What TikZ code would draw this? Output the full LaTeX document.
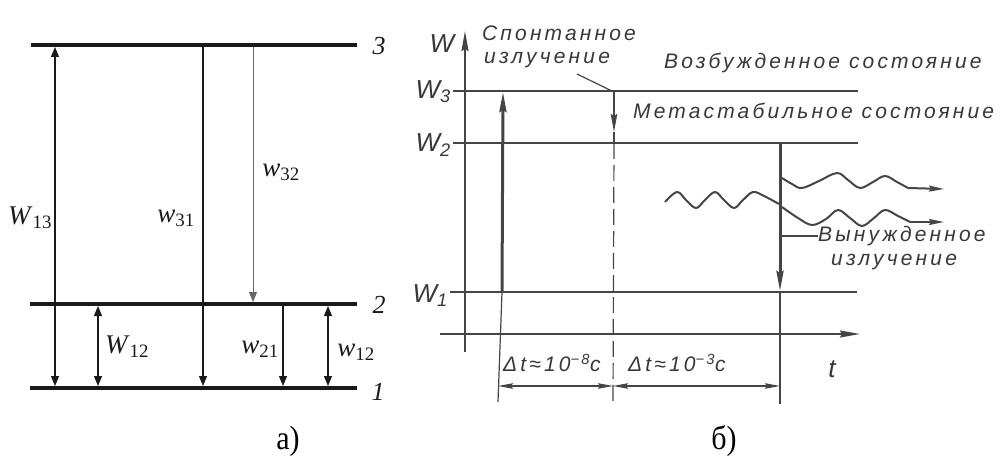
\documentclass[tikz,border=0pt]{standalone}
\usepackage{fontspec}
\setmainfont{Liberation Serif}
\newfontfamily\gost[LetterSpace=15]{Liberation Sans}
\usetikzlibrary{arrows.meta}
\definecolor{ink}{HTML}{1A1A1A}
\definecolor{gink}{HTML}{454545}
\definecolor{gtext}{HTML}{383838}
\tikzset{
  tri/.tip={Triangle[width=8pt,length=10pt]},
  stl/.tip={Stealth[length=20pt,width=7pt,inset=2pt]},
  spt/.tip={Stealth[length=18pt,width=6.5pt,inset=2pt]},
  wvt/.tip={Stealth[length=15pt,width=6pt,inset=2pt]},
  dimtip/.tip={Stealth[length=15pt,width=5.5pt,inset=2pt]}
}
\begin{document}
\begin{tikzpicture}[x=1pt,y=-1pt,
  level/.style={line width=3.2pt,ink},
  trans/.style={line width=1.1pt,ink},
  thintrans/.style={line width=0.8pt,black!60},
  lvlnum/.style={font=\fontsize{26}{26}\selectfont\itshape,inner sep=0pt,ink},
  rate/.style={font=\fontsize{27}{27}\selectfont,inner sep=0pt,ink},
  caption/.style={font=\fontsize{30}{30}\selectfont,inner sep=0pt,black,yscale=1.12},
  elev/.style={line width=2.0pt,gink},
  axis/.style={line width=2.0pt,gink},
  ext/.style={line width=1.2pt,gink},
  gt/.style={font=\gost\fontsize{21}{21}\selectfont\itshape,inner sep=0pt,gtext},
  gw/.style={font=\fontsize{26}{26}\selectfont\gost\itshape,inner sep=0pt,gtext},
  wave/.style={line width=2.0pt,gink,line join=round}
]
\useasboundingbox (0,0) rectangle (1005,468);

% ---------------- (a) ----------------
\coordinate (L3a) at (31,45);  \coordinate (L3b) at (357,45);
\coordinate (L2a) at (30,304); \coordinate (L2b) at (357,304);
\coordinate (L1a) at (30,388); \coordinate (L1b) at (357,388);
\draw[level] (L3a) -- (L3b);
\draw[level] (L2a) -- (L2b);
\draw[level] (L1a) -- (L1b);
\node[lvlnum] (n3) at (379,46) {3};
\node[lvlnum] (n2) at (379,305) {2};
\node[lvlnum] (n1) at (378,392) {1};

\coordinate (a13t) at (55,47);  \coordinate (a13b) at (55,386);
\coordinate (A12t) at (98,306); \coordinate (A12b) at (98,386);
\coordinate (a31t) at (203,47); \coordinate (a31b) at (203,386);
\coordinate (a32t) at (253,47); \coordinate (a32b) at (253,302);
\coordinate (a21t) at (283,306);\coordinate (a21b) at (283,386);
\coordinate (b12t) at (328,306);\coordinate (b12b) at (328,386);
\draw[trans,tri-tri] (a13b) -- (a13t);
\draw[trans,tri-tri] (A12b) -- (A12t);
\draw[trans,-tri] (a31t) -- (a31b);
\draw[thintrans,-tri] (a32t) -- (a32b);
\draw[trans,-tri] (a21t) -- (a21b);
\draw[trans,tri-tri] (b12b) -- (b12t);

\node[rate] (lW13) at (30,218) {\textit{W}\textsubscript{13}};
\node[rate] (lw31) at (176,218) {\textit{w}\textsubscript{31}};
\node[rate] (lw32) at (281,172) {\textit{w}\textsubscript{32}};
\node[rate] (lW12) at (127,347) {\textit{W}\textsubscript{12}};
\node[rate] (lw21) at (260,349) {\textit{w}\textsubscript{21}};
\node[rate] (lb12) at (356,352) {\textit{w}\textsubscript{12}};

\node[caption] (capa) at (288,441) {а)};
\node[caption] (capb) at (724,441) {б)};

% ---------------- (b) ----------------
% axes
\coordinate (Wax0) at (465,352); \coordinate (Wax1) at (465,31);
\coordinate (tax0) at (440,334); \coordinate (tax1) at (860,334);
\draw[axis,-stl] (Wax0) -- (Wax1);
\draw[axis,-stl] (tax0) -- (tax1);
\node[gw] (lW) at (442,44) {W};
\node[gw] (lt) at (832,369) {t};

% energy levels
\coordinate (E3a) at (453,91);  \coordinate (E3b) at (858,91);
\coordinate (E2a) at (453,143); \coordinate (E2b) at (858,143);
\coordinate (E1a) at (450,292); \coordinate (E1b) at (857,292);
\draw[elev] (E3a) -- (E3b);
\draw[elev] (E2a) -- (E2b);
\draw[elev] (E1a) -- (E1b);
\node[gw,anchor=east] (lW3) at (451,92) {W\textsubscript{3}};
\node[gw,anchor=east] (lW2) at (451,145) {W\textsubscript{2}};
\node[gw,anchor=east] (lW1) at (448,296) {W\textsubscript{1}};

\node[gt,anchor=west] (exc) at (664,63) {Возбужденное состояние};
\node[gt,anchor=west] (meta) at (633,111) {Метастабильное состояние};

% pumping
\coordinate (p1) at (502,292); \coordinate (p3) at (503,92);
\coordinate (pext) at (498,402);
\draw[line width=3pt,gink,-stl] (p1) -- (p3);
\draw[ext] (p1) -- (pext);

% spontaneous emission
\coordinate (s3) at (614,92); \coordinate (smid) at (614,132);
\coordinate (s2) at (614,143); \coordinate (sext) at (613,402);
\draw[line width=1.8pt,gink,-spt] (s3) -- (smid);
\draw[line width=1.8pt,gink] (smid) -- (s2);
\draw[ext,dash pattern=on 16pt off 6pt] (s2) -- (sext);
\node[gt,anchor=west] (sp1) at (482,33) {Спонтанное};
\node[gt,anchor=west] (sp2) at (484,60) {излучение};
\coordinate (slead) at (577,74);
\draw[ext] (slead) -- (s3);

% stimulated emission
\coordinate (st2) at (780,143); \coordinate (st1) at (780,291);
\coordinate (stext) at (780,404); \coordinate (stlead) at (780,236);
\draw[line width=3pt,gink,-stl] (st2) -- (st1);
\draw[ext] (st1) -- (stext);
\node[gt,anchor=west] (vy1) at (818,236) {Вынужденное};
\node[gt,anchor=west] (vy2) at (831,262) {излучение};
\draw[ext] (stlead) -- (vy1.west);

% photons
\coordinate (win) at (665,202); \coordinate (wjoin) at (779,204);
\draw[wave] plot[smooth,tension=0.6] coordinates {(win) (677,192) (686,200) (696,208) (705,200) (715,192) (724,200) (734,208) (743,200) (753,192) (764,196) (wjoin)};
\coordinate (wo1) at (782,178); \coordinate (wo1e) at (944,189); \coordinate (wo1s) at (908,188);
\draw[wave] plot[smooth,tension=0.6] coordinates {(wo1) (792,184) (802,188) (819,181) (837,173) (848,180) (860,188) (873,182) (885,176) (897,182) (wo1s)};
\draw[wave,-wvt] (wo1s) -- (wo1e);
\coordinate (wo2) at (782,207); \coordinate (wo2e) at (944,222); \coordinate (wo2s) at (910,222);
\draw[wave] plot[smooth,tension=0.6] coordinates {(wo2) (798,218) (812,225) (826,219) (838,210) (850,218) (862,226) (874,218) (885,210) (898,216) (wo2s)};
\draw[wave,-wvt] (wo2s) -- (wo2e);

% time intervals
\coordinate (d1a) at (498,386); \coordinate (d1b) at (613,386); \coordinate (d1c) at (780,386);
\draw[ext,dimtip-dimtip] (d1a) -- (d1b);
\draw[ext,dimtip-dimtip] (d1b) -- (d1c);
\node[gt,anchor=west] (dt1) at (503,363) {Δt≈10\textsuperscript{−8}с};
\node[gt,anchor=west] (dt2) at (628,363) {Δt≈10\textsuperscript{−3}с};
\end{tikzpicture}
\end{document}
